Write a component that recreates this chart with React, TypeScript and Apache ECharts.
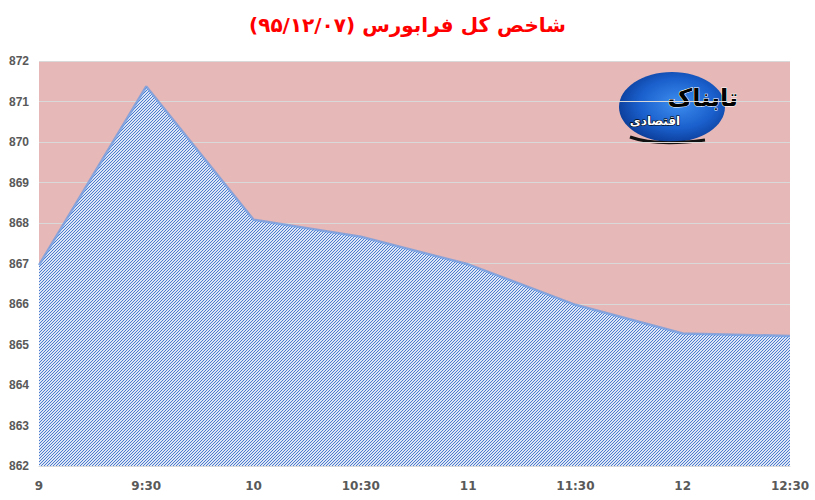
import React, { useEffect, useRef } from "react";
import * as echarts from "echarts";

const categories: string[] = ["9", "9:30", "10", "10:30", "11", "11:30", "12", "12:30"];
const indexValues: number[] = [866.96, 871.37, 868.08, 867.66, 866.98, 865.98, 865.27, 865.21];
const yMin = 862;
const yMax = 872;
const yInterval = 1;
const titleText = "\u202Bشاخص کل فرابورس (۹۵/۱۲/۰۷)\u202C";
const logoMain = "تابناک";
const logoSub = "اقتصادی";

function makeHatch(): HTMLCanvasElement {
  const c = document.createElement("canvas");
  c.width = 3;
  c.height = 3;
  const ctx = c.getContext("2d")!;
  ctx.fillStyle = "#dbe5f6";
  ctx.fillRect(0, 0, 3, 3);
  ctx.fillStyle = "#4a7bcd";
  for (let x = 0; x < 3; x++) {
    for (let y = 0; y < 3; y++) {
      if ((x + y) % 3 === 2) ctx.fillRect(x, y, 1, 1);
    }
  }
  return c;
}

export default function App() {
  const ref = useRef<HTMLDivElement>(null);
  useEffect(() => {
    document.body.style.margin = "0";
    const chart = echarts.init(ref.current!, null, { renderer: "svg" });
    const hatch = makeHatch();
    chart.setOption({
      animation: false,
      backgroundColor: "#ffffff",
      title: {
        text: titleText,
        left: "center",
        top: 10,
        textStyle: { color: "#ff0000", fontSize: 20, fontWeight: "bold", fontFamily: "DejaVu Sans" },
      },
      grid: {
        left: 39,
        right: 25,
        top: 61,
        bottom: 34,
        show: true,
        backgroundColor: "#e6b8b7",
        borderWidth: 0,
      },
      xAxis: {
        type: "category",
        data: categories,
        boundaryGap: false,
        axisLine: { show: true, lineStyle: { color: "#d9d9d9", width: 1 } },
        axisTick: { show: false },
        axisLabel: {
          color: "#595959",
          fontSize: 12,
          fontWeight: "bold",
          fontFamily: "DejaVu Sans",
          margin: 14,
          interval: 0,
        },
        splitLine: { show: false },
      },
      yAxis: {
        type: "value",
        min: yMin,
        max: yMax,
        interval: yInterval,
        axisLine: { show: false },
        axisTick: { show: false },
        axisLabel: {
          color: "#595959",
          fontSize: 12,
          fontWeight: "bold",
          fontFamily: "Liberation Sans",
          margin: 10,
        },
        splitLine: { show: true, lineStyle: { color: "#d9d9d9", width: 1 } },
      },
      series: [
        {
          type: "line",
          data: indexValues,
          symbol: "none",
          lineStyle: { color: "rgba(110,155,225,0.75)", width: 2.5 },
          areaStyle: {
            color: { image: hatch, repeat: "repeat", imageWidth: 3, imageHeight: 3 },
            opacity: 1,
          },
          z: 3,
        },
      ],
      graphic: [
        {
          type: "group",
          z: 10,
          children: [
            {
              type: "ellipse",
              shape: { cx: 672, cy: 107, rx: 53, ry: 35 },
              style: {
                fill: {
                  type: "radial",
                  x: 0.55,
                  y: 0.45,
                  r: 0.6,
                  colorStops: [
                    { offset: 0, color: "#3d8ef0" },
                    { offset: 0.6, color: "#1a5fcc" },
                    { offset: 1, color: "#0a3a94" },
                  ],
                },
              },
            },
            {
              type: "bezierCurve",
              shape: { x1: 630, y1: 137, x2: 705, y2: 140, cpx1: 655, cpy1: 146, cpx2: 690, cpy2: 142 },
              style: { stroke: "#111111", lineWidth: 3, fill: "none" },
            },
            {
              type: "text",
              style: {
                text: logoSub,
                x: 655,
                y: 121,
                align: "center",
                verticalAlign: "middle",
                fontSize: 12,
                fontWeight: "bold",
                fontFamily: "DejaVu Sans",
                fill: "#ffffff",
                stroke: "#000000",
                lineWidth: 1.2,
              },
            },
            {
              type: "text",
              style: {
                text: logoMain,
                x: 738,
                y: 98,
                align: "right",
                verticalAlign: "middle",
                fontSize: 24,
                fontWeight: "bold",
                fontFamily: "DejaVu Sans",
                fill: "#000000",
                stroke: "#ffffff",
                lineWidth: 1,
              },
            },
          ],
        },
      ],
    });
    return () => chart.dispose();
  }, []);
  return <div ref={ref} style={{ width: 815, height: 500 }} />;
}
